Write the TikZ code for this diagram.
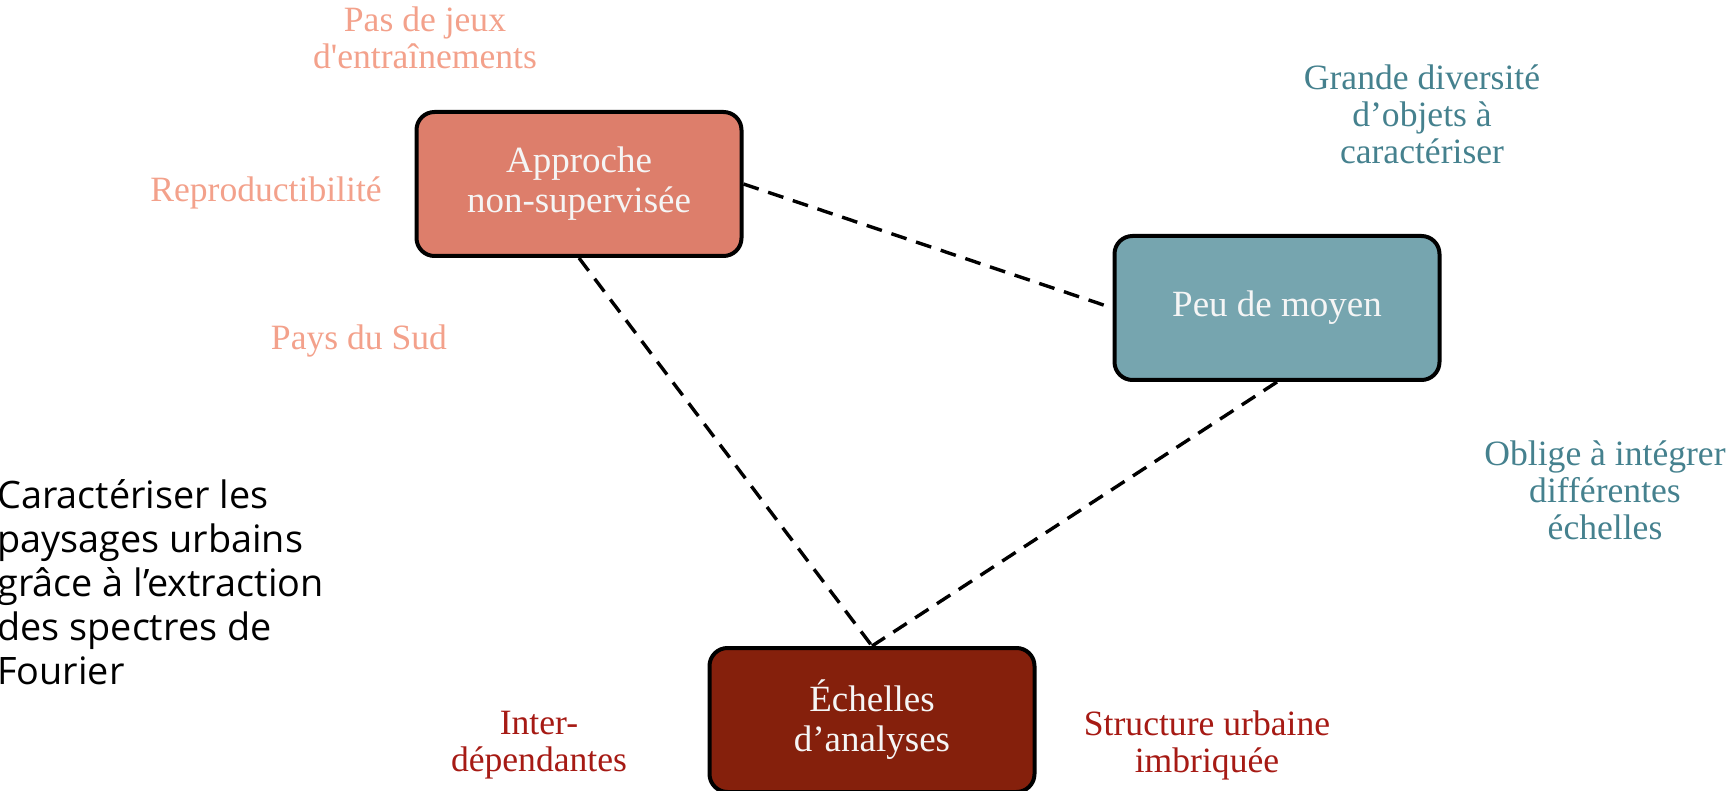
\documentclass[tikz,border=0pt]{standalone}
\usepackage{fontspec}
\setmainfont[Ligatures=TeXOff]{Liberation Serif}
\newfontfamily\opensans{Open Sans}
\usetikzlibrary{backgrounds}
\definecolor{salmonfill}{HTML}{DD7E6B}
\definecolor{tealfill}{HTML}{76A5AF}
\definecolor{berryfill}{HTML}{85200C}
\definecolor{salmontxt}{HTML}{F3A18B}
\definecolor{tealtxt}{HTML}{45818E}
\definecolor{redtxt}{HTML}{A61A14}
\definecolor{boxtxt}{HTML}{F5F5F5}
\tikzset{
  mainbox/.style={draw=black, line width=2pt, rounded corners=9pt,
    minimum width=162.5pt, minimum height=72pt, align=center,
    text=boxtxt, font=\fontsize{18.5}{20}\selectfont, inner sep=0pt},
  lbl/.style={align=center, font=\fontsize{17.8}{18.5}\selectfont, inner sep=0pt},
  link/.style={draw=black, line width=1.7pt, dash pattern=on 8pt off 5pt}
}
\begin{document}
\begin{tikzpicture}[x=0.5pt, y=-0.5pt]
\useasboundingbox (0,0) rectangle (1736,791);
\node[mainbox, fill=salmonfill] (A) at (579,184) {Approche\\non-supervisée};
\node[mainbox, fill=tealfill] (B) at (1277,308) {Peu de moyen};
\node[mainbox, fill=berryfill] (C) at (872,720) {Échelles\\d’analyses};
\begin{scope}[on background layer]
\draw[link] (A.east) -- (B.west);
\draw[link] (A.south) -- (C.north);
\draw[link] (B.south) -- (C.north);
\end{scope}
\node[lbl, text=salmontxt] (l1) at (425,38) {Pas de jeux\\d'entraînements};
\node[lbl, text=salmontxt] (l2) at (266,193) {Reproductibilité};
\node[lbl, text=salmontxt] (l3) at (359,341) {Pays du Sud};
\node[lbl, text=tealtxt] (l4) at (1422,114) {Grande diversité\\d’objets à\\caractériser};
\node[lbl, text=tealtxt] (l5) at (1605,490) {Oblige à intégrer\\différentes\\échelles};
\node[lbl, text=redtxt] (l6) at (539,745) {Inter-\\dépendantes};
\node[lbl, text=redtxt] (l7) at (1207,745) {Structure urbaine\\imbriquée};
\node[align=left, anchor=west, inner sep=0pt, font=\opensans\fontsize{18.9}{22}\selectfont] (T) at (-3,582)
  {Caractériser les\\paysages urbains\\grâce à l’extraction\\des spectres de\\Fourier};
\end{tikzpicture}
\end{document}
